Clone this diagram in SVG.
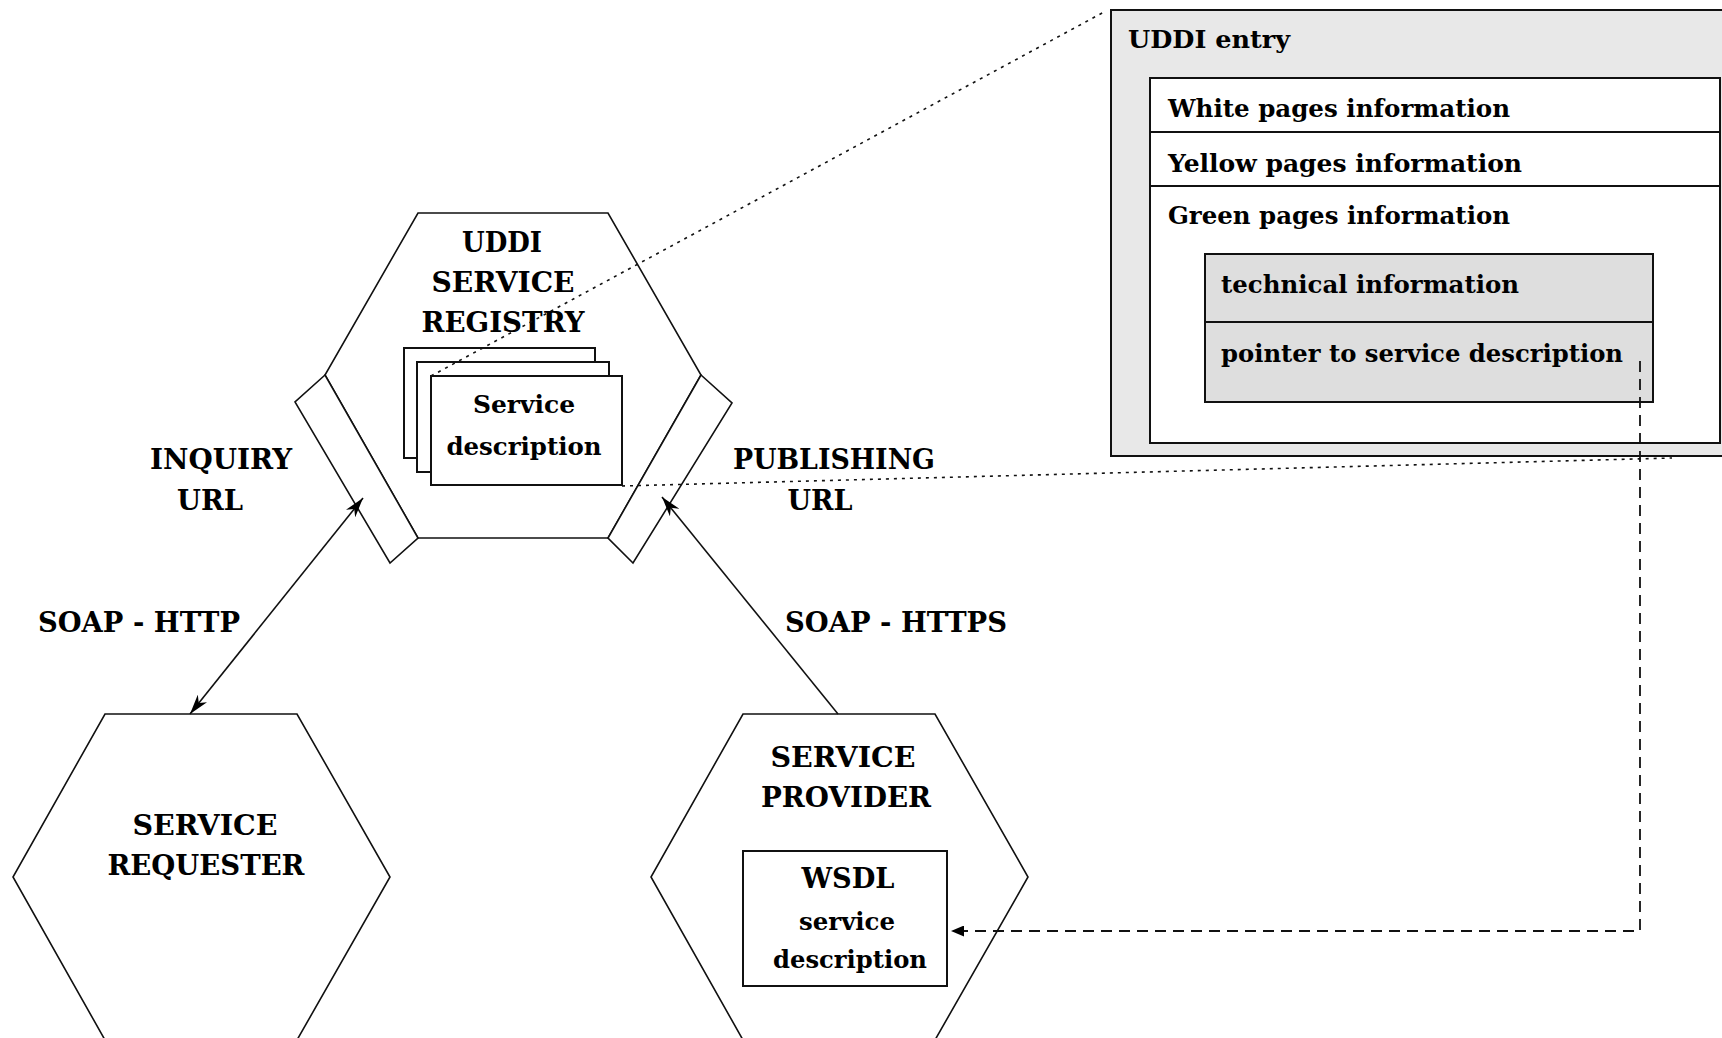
<svg xmlns="http://www.w3.org/2000/svg" width="1722" height="1038" viewBox="0 0 1722 1038">
<style>
.hex{fill:#fff;stroke:#111;stroke-width:1.6}
.port{fill:#fff;stroke:#111;stroke-width:1.6}
.box{fill:#fff;stroke:#111;stroke-width:2}
.t{font-family:"DejaVu Serif","Liberation Serif",serif;font-weight:bold;fill:#000}
.cap{font-size:27px}
.lc{font-size:25px}
.m{text-anchor:middle}
.conn{fill:none;stroke:#111;stroke-width:1.6}
.dot{fill:none;stroke:#111;stroke-width:1.6;stroke-dasharray:3 5}
.dash{fill:none;stroke:#111;stroke-width:1.8;stroke-dasharray:11 7}
</style>
<defs>
<marker id="ah" viewBox="0 0 20 12" refX="20" refY="6" markerWidth="20" markerHeight="12" markerUnits="userSpaceOnUse" orient="auto-start-reverse">
<path d="M0,0 L20,6 L0,12 L6,6 z" fill="#000"/>
</marker>
<marker id="ahs" viewBox="0 0 13 11" refX="13" refY="5.5" markerWidth="13" markerHeight="11" markerUnits="userSpaceOnUse" orient="auto">
<path d="M0,0 L13,5.5 L0,11 z" fill="#000"/>
</marker>
</defs>
<rect x="0" y="0" width="1722" height="1038" fill="#fff"/>

<g id="registry">
<polygon class="hex" points="418,213 608,213 701,375 608,538 418,538 325,375"/>
<polygon class="port" points="325,375 295,402 390,563 418,538"/>
<polygon class="port" points="701,375 732,403 633,563 608,538"/>
<text class="t cap m" x="502" y="252" textLength="80" lengthAdjust="spacingAndGlyphs">UDDI</text>
<text class="t cap m" x="503" y="292" textLength="143" lengthAdjust="spacingAndGlyphs">SERVICE</text>
<text class="t cap m" x="503" y="332" textLength="163" lengthAdjust="spacingAndGlyphs">REGISTRY</text>
<rect class="box" x="404" y="348" width="191" height="110"/>
<rect class="box" x="417" y="362" width="192" height="110"/>
<rect class="box" x="431" y="376" width="191" height="109"/>
<text class="t lc m" x="524" y="413" textLength="102" lengthAdjust="spacingAndGlyphs">Service</text>
<text class="t lc m" x="524" y="455" textLength="155" lengthAdjust="spacingAndGlyphs">description</text>
</g>

<g id="requester">
<polygon class="hex" points="105,714 297,714 390,877 297,1040 105,1040 13,877"/>
<text class="t cap m" x="205" y="835" textLength="145" lengthAdjust="spacingAndGlyphs">SERVICE</text>
<text class="t cap m" x="206" y="875" textLength="197" lengthAdjust="spacingAndGlyphs">REQUESTER</text>
</g>

<g id="provider">
<polygon class="hex" points="743,714 935,714 1028,877 935,1040 743,1040 651,877"/>
<text class="t cap m" x="843" y="767" textLength="145" lengthAdjust="spacingAndGlyphs">SERVICE</text>
<text class="t cap m" x="846" y="807" textLength="170" lengthAdjust="spacingAndGlyphs">PROVIDER</text>
<rect class="box" x="743" y="851" width="204" height="135"/>
<text class="t cap m" x="848" y="888" textLength="93" lengthAdjust="spacingAndGlyphs">WSDL</text>
<text class="t lc m" x="847" y="930" textLength="96" lengthAdjust="spacingAndGlyphs">service</text>
<text class="t lc m" x="850" y="968" textLength="154" lengthAdjust="spacingAndGlyphs">description</text>
</g>

<g id="uddi-entry">
<rect x="1111" y="10" width="630" height="446" fill="#e8e8e8" stroke="#111" stroke-width="2"/>
<text class="t lc" x="1128" y="48" textLength="162" lengthAdjust="spacingAndGlyphs">UDDI entry</text>
<rect class="box" x="1150" y="78" width="570" height="365"/>
<line x1="1150" y1="132" x2="1720" y2="132" stroke="#111" stroke-width="2"/>
<line x1="1150" y1="186" x2="1720" y2="186" stroke="#111" stroke-width="2"/>
<text class="t lc" x="1168" y="117" textLength="342" lengthAdjust="spacingAndGlyphs">White pages information</text>
<text class="t lc" x="1168" y="172" textLength="354" lengthAdjust="spacingAndGlyphs">Yellow pages information</text>
<text class="t lc" x="1168" y="224" textLength="342" lengthAdjust="spacingAndGlyphs">Green pages information</text>
<rect x="1205" y="254" width="448" height="148" fill="#dedede" stroke="#111" stroke-width="2"/>
<line x1="1205" y1="322" x2="1653" y2="322" stroke="#111" stroke-width="2"/>
<text class="t lc" x="1221" y="293" textLength="298" lengthAdjust="spacingAndGlyphs">technical information</text>
<text class="t lc" x="1221" y="362" textLength="402" lengthAdjust="spacingAndGlyphs">pointer to service description</text>
</g>

<g id="labels">
<text class="t cap m" x="221" y="469" textLength="142" lengthAdjust="spacingAndGlyphs">INQUIRY</text>
<text class="t cap m" x="210" y="510" textLength="66" lengthAdjust="spacingAndGlyphs">URL</text>
<text class="t cap m" x="139" y="632" textLength="202" lengthAdjust="spacingAndGlyphs">SOAP - HTTP</text>
<text class="t cap m" x="834" y="469" textLength="202" lengthAdjust="spacingAndGlyphs">PUBLISHING</text>
<text class="t cap m" x="820" y="510" textLength="65" lengthAdjust="spacingAndGlyphs">URL</text>
<text class="t cap m" x="896" y="632" textLength="222" lengthAdjust="spacingAndGlyphs">SOAP - HTTPS</text>
</g>

<g id="connectors">
<path class="conn" d="M190,714 L363,498" marker-start="url(#ah)" marker-end="url(#ah)"/>
<path class="conn" d="M838,714 L662,497" marker-end="url(#ah)"/>
<path class="dot" d="M431,376 L1104,12"/>
<path class="dot" d="M622,486 L1672,458"/>
<path class="dash" d="M1640,361 V931 H951" marker-end="url(#ahs)"/>
</g>
</svg>
